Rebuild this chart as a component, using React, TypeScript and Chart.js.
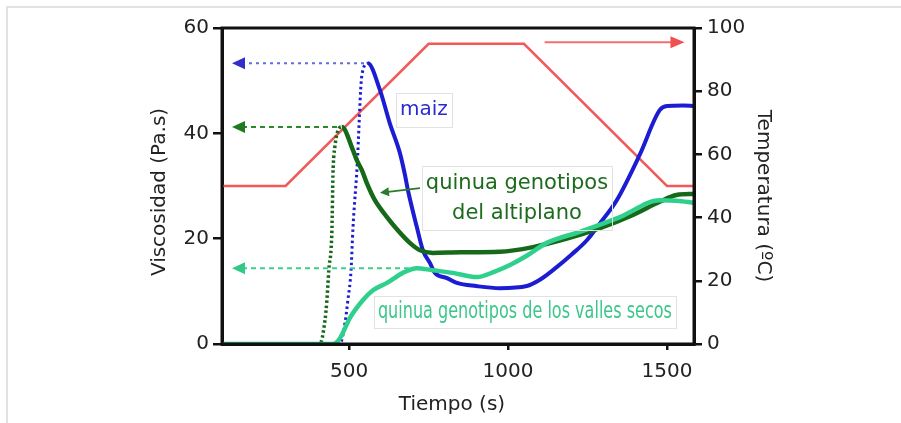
import React, { useEffect, useRef } from "react";
import { Chart, registerables } from "chart.js";

Chart.register(...registerables);

// Viscosity (Pa.s) vs time (s) — maize
const maizTime = [100, 200, 300, 400, 471, 487, 496, 506, 512, 525, 540, 559, 597, 628, 660, 676, 685, 713, 732, 754, 770, 808, 839, 900, 974, 1059, 1100, 1153, 1200, 1248, 1290, 1342, 1414, 1477, 1500, 1550, 1585];
const maizVisc = [0, 0, 0, 0, 0, 4, 8.3, 14, 22, 33.6, 51, 53.3, 48.2, 41.9, 36.2, 32, 29.2, 22.2, 17.8, 15.4, 13.5, 12.5, 11.6, 11, 10.6, 11, 12.2, 14.6, 17, 19.7, 23, 27.3, 35.9, 44.4, 45.2, 45.3, 45.2];

// Quinoa, highland (altiplano) genotypes
const altiplanoTime = [100, 300, 408, 424, 430, 436, 446, 449, 455, 477, 512, 524, 540, 556, 581, 619, 653, 691, 723, 763, 850, 974, 1078, 1185, 1289, 1393, 1477, 1530, 1585];
const altiplanoVisc = [0, 0, 0, 4.5, 8.3, 14, 22, 32, 37.4, 41.2, 36.8, 34.9, 33, 30.5, 27.3, 24.1, 21.6, 19.2, 17.8, 17.3, 17.4, 17.5, 18.4, 20, 22, 24.5, 27, 28.3, 28.5];

// Quinoa, dry-valley genotypes
const vallesTime = [100, 300, 449, 470, 503, 543, 575, 619, 669, 713, 763, 826, 902, 960, 1006, 1060, 1122, 1226, 1352, 1477, 1530, 1585];
const vallesVisc = [0, 0, 0, 1, 5, 8.3, 10.2, 11.6, 13.5, 14.4, 14, 13.5, 12.7, 13.8, 15, 16.8, 19.2, 21.3, 24.1, 27.3, 27.2, 26.8];

// Temperature profile (ºC)
const tempTime = [100, 300, 750, 1050, 1500, 1585];
const tempValues = [50, 50, 95, 95, 50, 50];

// Axes
const timeRange = [100, 1585];
const viscRange = [0, 60];
const tempRange = [0, 100];
const timeTicks = [500, 1000, 1500];
const viscTicks = [0, 20, 40, 60];
const tempTicks = [0, 20, 40, 60, 80, 100];

// Text
const xTitle = "Tiempo (s)";
const yTitle = "Viscosidad (Pa.s)";
const y2Title = "Temperatura (ºC)";
const maizLabel = ["maiz"];
const altiplanoLabel = ["quinua genotipos", "del altiplano"];
const vallesLabel = ["quinua genotipos de los valles secos"];

// Label anchors (time, viscosity)
const maizLabelAt = [735, 44.4];
const altiplanoLabelAt = [1028, 27.7];
const vallesLabelAt = [1053, 6.1];
const pointerFrom = [723, 29.6];
const pointerTo = [597, 28.7];

// Arrow toward the temperature axis (time range, ºC)
const tempArrowTime = [1115, 1555];
const tempArrowLevel = 95.5;

const BLUE = "#1c1cd2";
const DARK_GREEN = "#17691a";
const LIGHT_GREEN = "#2fd08b";
const RED = "#f25a5a";
const FONT = '"DejaVu Sans", sans-serif';

const pts = (t: number[], v: number[]) => t.map((x, i) => ({ x, y: v[i] }));
const peakIndex = (v: number[]) => v.indexOf(Math.max(...v));

function earlyPeak(t: number[], v: number[], limit: number) {
  let best = 0;
  let bt = t[0];
  t.forEach((x, i) => {
    if (x < limit && v[i] > best) {
      best = v[i];
      bt = x;
    }
  });
  return [bt, best];
}

function arrowHead(ctx: CanvasRenderingContext2D, x: number, y: number, dir: number, color: string, len = 13, half = 6) {
  ctx.save();
  ctx.setLineDash([]);
  ctx.fillStyle = color;
  ctx.beginPath();
  ctx.moveTo(x, y);
  ctx.lineTo(x - dir * len, y - half);
  ctx.lineTo(x - dir * len, y + half);
  ctx.closePath();
  ctx.fill();
  ctx.restore();
}

const overlay = {
  id: "overlay",
  afterDatasetsDraw(chart: any) {
    const { ctx, chartArea: a, scales } = chart;
    const x = scales.x;
    const y = scales.y;
    const y1 = scales.y1;

    // frame
    ctx.save();
    ctx.strokeStyle = "#111";
    ctx.lineWidth = 3;
    ctx.strokeRect(a.left, a.top, a.right - a.left, a.bottom - a.top);
    ctx.restore();

    // peak reference arrows toward the viscosity axis
    const vp = earlyPeak(vallesTime, vallesVisc, 900);
    const refs = [
      { t: maizTime[peakIndex(maizVisc)], v: Math.max(...maizVisc), line: "#6a6ad8", head: "#3030c8", dash: [3, 4] },
      { t: altiplanoTime[peakIndex(altiplanoVisc)], v: Math.max(...altiplanoVisc), line: "#2a8a2a", head: "#1f7a1f", dash: [5, 4] },
      { t: vp[0], v: vp[1], line: "#3ccf90", head: "#33c888", dash: [5, 4] },
    ];
    refs.forEach((r) => {
      const py = y.getPixelForValue(r.v);
      const x0 = a.left + 10;
      const x1 = x.getPixelForValue(r.t) - 3;
      ctx.save();
      ctx.strokeStyle = r.line;
      ctx.lineWidth = 2;
      ctx.setLineDash(r.dash);
      ctx.beginPath();
      ctx.moveTo(x0 + 10, py);
      ctx.lineTo(x1, py);
      ctx.stroke();
      ctx.restore();
      arrowHead(ctx, x0, py, -1, r.head);
    });

    // arrow toward the temperature axis
    {
      const py = y1.getPixelForValue(tempArrowLevel);
      const x0 = x.getPixelForValue(tempArrowTime[0]);
      const x1 = x.getPixelForValue(tempArrowTime[1]);
      ctx.save();
      ctx.strokeStyle = "#f07070";
      ctx.lineWidth = 2;
      ctx.beginPath();
      ctx.moveTo(x0, py);
      ctx.lineTo(x1 - 10, py);
      ctx.stroke();
      ctx.restore();
      arrowHead(ctx, x1, py, 1, "#f25050", 14, 6);
    }

    // pointer from the highland label to its curve
    {
      const fx = x.getPixelForValue(pointerFrom[0]);
      const fy = y.getPixelForValue(pointerFrom[1]);
      const tx = x.getPixelForValue(pointerTo[0]);
      const ty = y.getPixelForValue(pointerTo[1]);
      ctx.save();
      ctx.strokeStyle = "#2c7a2c";
      ctx.lineWidth = 1.8;
      ctx.beginPath();
      ctx.moveTo(fx, fy);
      ctx.lineTo(tx + 6, ty - 0.8);
      ctx.stroke();
      ctx.restore();
      const ang = Math.atan2(ty - fy, tx - fx);
      ctx.save();
      ctx.translate(tx, ty);
      ctx.rotate(ang);
      ctx.fillStyle = "#2c7a2c";
      ctx.beginPath();
      ctx.moveTo(0, 0);
      ctx.lineTo(-9, -4.5);
      ctx.lineTo(-9, 4.5);
      ctx.closePath();
      ctx.fill();
      ctx.restore();
    }

    // text labels with faint boxes
    const drawLabel = (lines: string[], at: number[], color: string, size: number, lineGap: number, maxW?: number) => {
      const cx = x.getPixelForValue(at[0]);
      const cy = y.getPixelForValue(at[1]);
      ctx.save();
      ctx.font = `${size}px ${FONT}`;
      const w = Math.max(...lines.map((l) => Math.min(ctx.measureText(l).width, maxW ?? 1e9)));
      const h = lines.length * lineGap;
      ctx.strokeStyle = "#e2e2e2";
      ctx.lineWidth = 1;
      ctx.strokeRect(Math.round(cx - w / 2 - 4) + 0.5, Math.round(cy - h / 2 - 2) + 0.5, Math.round(w + 8), Math.round(h + 4));
      ctx.fillStyle = color;
      ctx.textAlign = "center";
      ctx.textBaseline = "middle";
      lines.forEach((l, i) => {
        const ly = cy - h / 2 + lineGap * (i + 0.5);
        if (maxW) ctx.fillText(l, cx, ly, maxW);
        else ctx.fillText(l, cx, ly);
      });
      ctx.restore();
    };
    drawLabel(maizLabel, maizLabelAt, "#2a2ad0", 20, 30);
    drawLabel(altiplanoLabel, altiplanoLabelAt, "#1d6b1d", 21, 30);
    drawLabel(vallesLabel, vallesLabelAt, "#3cc68a", 23, 28, 294);
  },
  afterDraw(chart: any) {
    const { ctx, chartArea: a } = chart;
    ctx.save();
    ctx.fillStyle = "#222";
    ctx.font = `20px ${FONT}`;
    ctx.textAlign = "center";
    ctx.textBaseline = "middle";
    ctx.fillText(xTitle, (a.left + a.right) / 2 - 6, 405);

    ctx.save();
    ctx.translate(160, 192);
    ctx.rotate(-Math.PI / 2);
    ctx.fillText(yTitle, 0, 0);
    ctx.restore();

    ctx.save();
    ctx.translate(763, 196);
    ctx.rotate(Math.PI / 2);
    ctx.fillText(y2Title, 0, 0);
    ctx.restore();
    ctx.restore();
  },
};

const fixedTicks = (values: number[]) => (s: any) => {
  s.ticks = values.map((value) => ({ value }));
};

const plain = (v: any) => String(v);

export default function App() {
  const ref = useRef<HTMLCanvasElement | null>(null);

  useEffect(() => {
    if (!ref.current) return;
    Chart.defaults.font.family = FONT;
    const maizPeak = peakIndex(maizVisc);
    const altPeak = peakIndex(altiplanoVisc);

    const axisGrid = {
      display: true,
      drawOnChartArea: false,
      drawTicks: true,
      color: "#111",
      lineWidth: 2.5,
    };

    const chart = new Chart(ref.current, {
      type: "line",
      data: {
        datasets: [
          {
            label: "temperatura",
            data: pts(tempTime, tempValues),
            yAxisID: "y1",
            borderColor: RED,
            borderWidth: 2.5,
            pointRadius: 0,
            tension: 0,
            order: 4,
          },
          {
            label: "maiz",
            data: pts(maizTime, maizVisc),
            yAxisID: "y",
            borderColor: BLUE,
            borderWidth: 4,
            pointRadius: 0,
            cubicInterpolationMode: "monotone",
            order: 3,
            segment: {
              borderDash: (c: any) => (c.p1DataIndex <= maizPeak ? [2.5, 3] : undefined),
              borderWidth: (c: any) => (c.p1DataIndex <= maizPeak ? 3 : 4),
            },
          },
          {
            label: "altiplano",
            data: pts(altiplanoTime, altiplanoVisc),
            yAxisID: "y",
            borderColor: DARK_GREEN,
            borderWidth: 4.5,
            pointRadius: 0,
            cubicInterpolationMode: "monotone",
            order: 2,
            segment: {
              borderDash: (c: any) => (c.p1DataIndex <= altPeak ? [2.5, 2.5] : undefined),
              borderWidth: (c: any) => (c.p1DataIndex <= altPeak ? 3.5 : 4.5),
            },
          },
          {
            label: "valles",
            data: pts(vallesTime, vallesVisc),
            yAxisID: "y",
            borderColor: LIGHT_GREEN,
            borderWidth: 4.5,
            pointRadius: 0,
            cubicInterpolationMode: "monotone",
            order: 1,
          },
        ],
      },
      options: {
        animation: false,
        responsive: false,
        devicePixelRatio: 1,
        layout: { padding: { top: 28, left: 0, right: 0, bottom: 0 } },
        plugins: { legend: { display: false }, tooltip: { enabled: false } },
        scales: {
          x: {
            type: "linear",
            min: timeRange[0],
            max: timeRange[1],
            afterBuildTicks: fixedTicks(timeTicks),
            afterFit: (s: any) => {
              s.height = 79;
            },
            grid: { ...axisGrid, tickLength: 6 },
            border: { display: true, color: "#111", width: 3 },
            ticks: { color: "#222", font: { size: 20 }, padding: 10, maxRotation: 0, callback: plain },
          },
          y: {
            position: "left",
            min: viscRange[0],
            max: viscRange[1],
            afterBuildTicks: fixedTicks(viscTicks),
            afterFit: (s: any) => {
              s.width = 222;
            },
            grid: { ...axisGrid, tickLength: 9 },
            border: { display: true, color: "#111", width: 3 },
            ticks: { color: "#222", font: { size: 20 }, padding: 4, callback: plain },
          },
          y1: {
            position: "right",
            min: tempRange[0],
            max: tempRange[1],
            afterBuildTicks: fixedTicks(tempTicks),
            afterFit: (s: any) => {
              s.width = 207;
            },
            grid: { ...axisGrid, tickLength: 8 },
            border: { display: true, color: "#111", width: 3 },
            ticks: { color: "#222", font: { size: 20 }, padding: 5, callback: plain },
          },
        },
      },
      plugins: [overlay],
    } as any);

    return () => chart.destroy();
  }, []);

  return (
    <div style={{ position: "fixed", left: 0, top: 0, width: 901, height: 423, background: "#fff", overflow: "hidden" }}>
      <div
        style={{
          position: "absolute",
          left: 6,
          top: 6,
          width: 940,
          height: 460,
          borderTop: "2px solid #e2e2e2",
          borderLeft: "2px solid #e2e2e2",
        }}
      />
      <canvas ref={ref} width={901} height={423} style={{ position: "absolute", left: 0, top: 0, width: 901, height: 423 }} />
    </div>
  );
}
